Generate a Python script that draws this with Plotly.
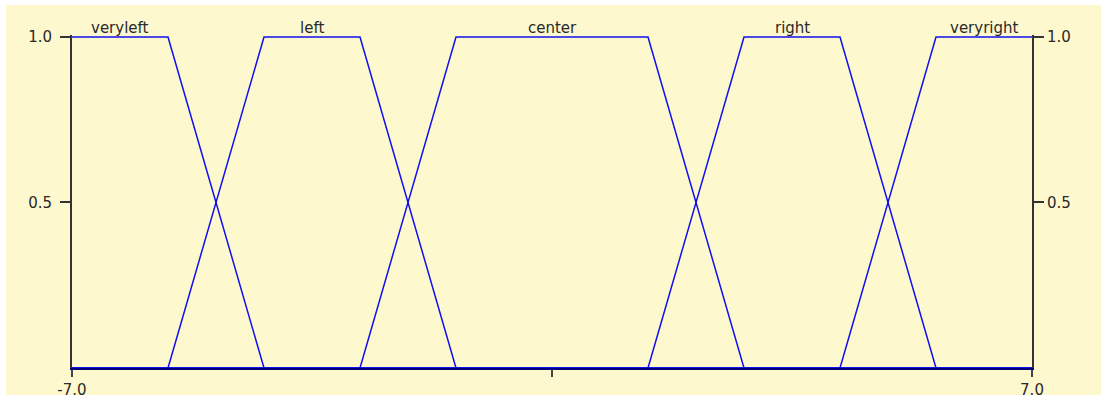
import plotly.graph_objects as go

# Membership function breakpoints (x) and membership values (y)
names = ["veryleft", "left", "center", "right", "veryright"]
x_veryleft = [-7.0, -5.6, -4.2, 7.0]
y_veryleft = [1.0, 1.0, 0.0, 0.0]
x_left = [-7.0, -5.6, -4.2, -2.8, -1.4, 7.0]
y_left = [0.0, 0.0, 1.0, 1.0, 0.0, 0.0]
x_center = [-7.0, -2.8, -1.4, 1.4, 2.8, 7.0]
y_center = [0.0, 0.0, 1.0, 1.0, 0.0, 0.0]
x_right = [-7.0, 1.4, 2.8, 4.2, 5.6, 7.0]
y_right = [0.0, 0.0, 1.0, 1.0, 0.0, 0.0]
x_veryright = [-7.0, 4.2, 5.6, 7.0]
y_veryright = [0.0, 0.0, 1.0, 1.0]

xs = [x_veryleft, x_left, x_center, x_right, x_veryright]
ys = [y_veryleft, y_left, y_center, y_right, y_veryright]

y_tickvals = [0.5, 1.0]
y_ticktext = ["0.5", "1.0"]
x_tickvals = [-7.0, 0.0, 7.0]
x_ticktext = ["-7.0", "", "7.0"]

BG = "#FEF8CF"
TXT = "#2A2A2A"
FONT = "DejaVu Sans"
FS = 15

fig = go.Figure()
for n, x, y in zip(names, xs, ys):
    fig.add_trace(go.Scatter(x=x, y=y, mode="lines", name=n,
                             line=dict(color="#1010F0", width=1.5),
                             hoverinfo="skip", showlegend=False))
# dummy trace for the right axis
fig.add_trace(go.Scatter(x=[-7, 7], y=[0, 1], yaxis="y2", mode="lines",
                         line=dict(width=0), hoverinfo="skip", showlegend=False))

annotations = []
for n, x, y in zip(names, xs, ys):
    top = [xi for xi, yi in zip(x, y) if yi == 1.0]
    cx = (min(top) + max(top)) / 2
    annotations.append(dict(x=cx, y=1.0, xref="x", yref="y", text=n,
                            showarrow=False, yanchor="bottom", yshift=-2,
                            font=dict(family=FONT, size=FS, color=TXT)))

fig.update_layout(
    template="none",
    width=1101, height=398, autosize=False,
    margin=dict(l=72, r=69, t=35, b=30, pad=0),
    paper_bgcolor="white",
    plot_bgcolor="rgba(0,0,0,0)",
    annotations=annotations,
    shapes=[dict(type="rect", xref="paper", yref="paper",
                 x0=(6 - 72) / 960, x1=(1101 - 72) / 960,
                 y0=(368 - 395) / 333, y1=(368 - 5) / 333,
                 fillcolor=BG, line=dict(width=0), layer="below")],
    xaxis=dict(range=[-7, 7], showgrid=False, zeroline=False, automargin=False,
               showline=True, linecolor="#00007A", linewidth=2,
               ticks="outside", ticklen=7, tickwidth=2, tickcolor="#444444",
               tickvals=x_tickvals, ticktext=x_ticktext,
               tickfont=dict(family=FONT, size=FS, color=TXT)),
    yaxis=dict(range=[0, 1.006], showgrid=False, zeroline=False, automargin=False,
               showline=True, linecolor="#333333", linewidth=2,
               ticks="outside", ticklen=10, tickwidth=1.5, tickcolor="#333333",
               tickvals=y_tickvals, ticktext=y_ticktext,
               ticklabelstandoff=5,
               tickfont=dict(family=FONT, size=FS, color=TXT)),
    yaxis2=dict(range=[0, 1.006], overlaying="y", side="right", automargin=False,
                showgrid=False, zeroline=False,
                showline=True, linecolor="#333333", linewidth=2,
                ticks="outside", ticklen=10, tickwidth=1.5, tickcolor="#333333",
                tickvals=y_tickvals, ticktext=y_ticktext,
                tickfont=dict(family=FONT, size=FS, color=TXT)),
)

fig.write_html("out.html",
               config={"responsive": False, "displayModeBar": False},
               post_script="document.body.style.margin='0';"
                           "document.body.style.overflow='hidden';")
